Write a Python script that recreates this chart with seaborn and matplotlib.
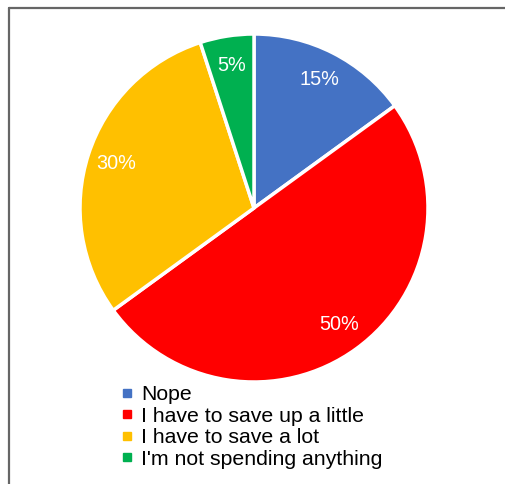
import matplotlib
matplotlib.use("Agg")
import matplotlib.pyplot as plt
from matplotlib.lines import Line2D
import seaborn as sns

categories = ["Nope", "I have to save up a little", "I have to save a lot", "I'm not spending anything"]
shares = [15, 50, 30, 5]
colors = ["#4472C4", "#FF0000", "#FFC000", "#00B050"]

sns.set_theme(style="white")
plt.rcParams["font.family"] = ["Liberation Sans", "DejaVu Sans"]
plt.rcParams["text.color"] = "black"

W, H = 506, 484
fig = plt.figure(figsize=(W / 100, H / 100), dpi=100)
ax = fig.add_axes([0, 0, 1, 1])

wedges, texts, autotexts = ax.pie(
    shares,
    colors=colors,
    startangle=90,
    counterclock=False,
    center=(254, H - 208),
    radius=174,
    autopct="%d%%",
    pctdistance=0.83,
    wedgeprops=dict(edgecolor="white", linewidth=2.5),
    textprops=dict(color="white", fontsize=14.3),
    frame=True,
)
ax.set_xlim(0, W)
ax.set_ylim(0, H)
ax.set_aspect("equal")
ax.axis("off")

handles = [Line2D([0], [0], marker="s", linestyle="none", markersize=5.5,
                  markerfacecolor=c, markeredgecolor=c) for c in colors]
fig.legend(handles, categories, loc="upper left",
           bbox_to_anchor=(121 / W, 1 - 385 / H), frameon=False,
           fontsize=15.3, labelspacing=0.12, handlelength=0.6,
           handletextpad=0.35, borderpad=0, borderaxespad=0,
           labelcolor="black")

# chart-area border (top and left edges)
border = "#666666"
fig.add_artist(Line2D([8.5 / W, 1], [1 - 7.5 / H, 1 - 7.5 / H], color=border, lw=1.6,
                      transform=fig.transFigure))
fig.add_artist(Line2D([8.5 / W, 8.5 / W], [0, 1 - 7.5 / H], color=border, lw=1.6,
                      transform=fig.transFigure))

fig.savefig("out.png", dpi=100, facecolor="white")
